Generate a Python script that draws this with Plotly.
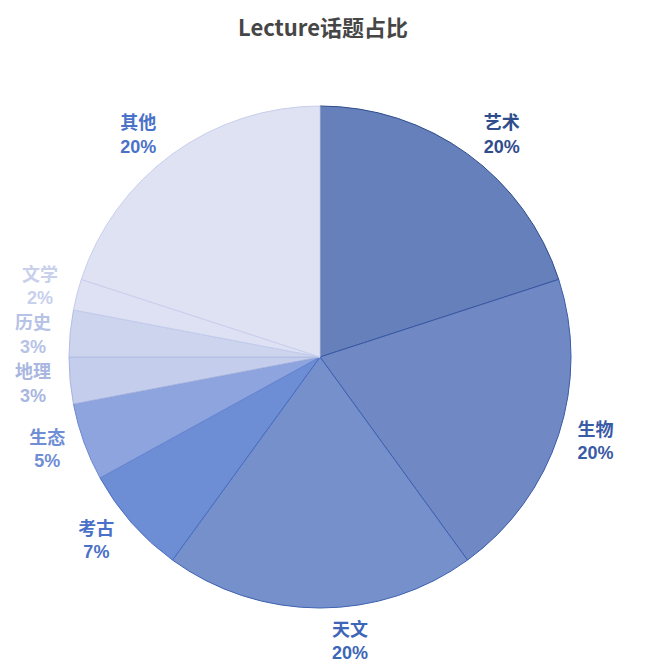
import plotly.graph_objects as go

# Lecture topics and their share (%)
topics = ["艺术", "生物", "天文", "考古", "生态", "地理", "历史", "文学", "其他"]
shares = [20, 20, 20, 7, 5, 3, 3, 2, 20]

# slice fill, border and label colours (the original used vertical gradients)
fill_colors = ["#6580ba", "#7089c4", "#7590ca", "#6d8dd4", "#8ea4de",
               "#c5cdec", "#cdd4ee", "#dde1f3", "#dfe2f3"]
line_colors = ["#2f4c8c", "#3a5aa6", "#3d62b2", "#4a6ec4", "#6a88d2",
               "#a6b4de", "#b4c0e4", "#c4cced", "#c9cfeb"]
label_colors = ["#2f4c8c", "#3a5aa6", "#3d66b8", "#4b70c8", "#6f8ed6",
                "#a8b6e0", "#b6c2e6", "#c8d0ec", "#4a72c8"]

pie_radius = 251    # px, visible pie
label_radius = 258  # px, labels sit a bit further out like the original
center_x, center_y = 312, 349  # px inside the figure
inset = (label_radius - pie_radius) / (2 * label_radius)

fig = go.Figure()

# visible pie, no text
fig.add_trace(go.Pie(
    labels=topics,
    values=shares,
    sort=False,
    direction="clockwise",
    rotation=0,
    textinfo="none",
    marker=dict(colors=fill_colors,
                line=dict(color=line_colors, width=1)),
    domain=dict(x=[inset, 1 - inset], y=[inset, 1 - inset]),
    showlegend=False,
))

# transparent, slightly bigger pie that only carries the outside labels
# (base font colour white so any leader line vanishes on the background)
label_tpl = ("<span style='color:%{customdata}'>%{label}</span><br>"
             "<span style='color:%{customdata};font-family:Liberation Sans'>"
             "%{percent:.0%}</span>")
fig.add_trace(go.Pie(
    labels=topics,
    values=shares,
    customdata=label_colors,
    sort=False,
    direction="clockwise",
    rotation=0,
    textposition="outside",
    texttemplate=label_tpl,
    outsidetextfont=dict(color="white", size=18,
                         family="Noto Sans CJK SC", weight="bold"),
    marker=dict(colors=["rgba(0,0,0,0)"] * len(topics),
                line=dict(width=0)),
    hoverinfo="skip",
    showlegend=False,
))

fig.update_layout(
    width=646,
    height=664,
    margin=dict(l=center_x - label_radius,
                r=646 - center_x - label_radius,
                t=center_y - label_radius,
                b=664 - center_y - label_radius),
    paper_bgcolor="white",
    title=dict(
        text="Lecture话题占比",
        x=0.4876,
        xanchor="center",
        y=0.970,
        yanchor="middle",
        font=dict(size=22, color="#464646", family="Noto Sans CJK SC",
                  weight="bold"),
    ),
)

fig.write_html("out.html")
